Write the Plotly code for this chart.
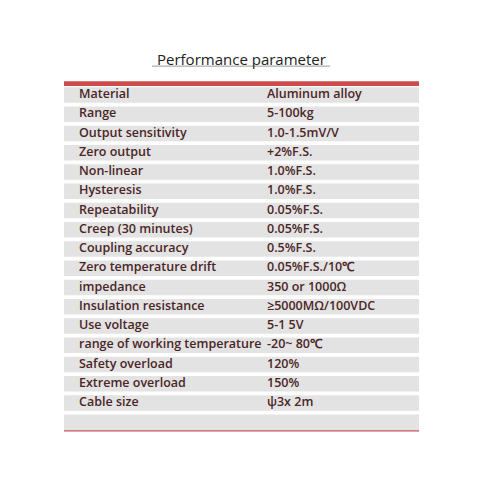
import plotly.graph_objects as go

params = ["Material","Range","Output sensitivity","Zero output","Non-linear","Hysteresis",
          "Repeatability","Creep (30 minutes)","Coupling accuracy","Zero temperature drift",
          "impedance","Insulation resistance","Use voltage","range of working temperature",
          "Safety overload","Extreme overload","Cable size",""]
values = ["Aluminum alloy","5-100kg","1.0-1.5mV/V","+2%F.S.","1.0%F.S.","1.0%F.S.",
          "0.05%F.S.","0.05%F.S.","0.5%F.S.","0.05%F.S./10℃","350 or 1000Ω",
          "≥5000MΩ/100VDC","5-1 5V","-20~ 80℃","120%","150%","ψ3x 2m",""]

rows = list(range(len(params)))
TXT = "#4a2626"
fig = go.Figure()
fig.add_trace(go.Bar(y=rows, x=[355]*len(rows), base=[64]*len(rows), orientation="h",
                     width=0.8, marker=dict(color="#e3e3e3", line_width=0), hoverinfo="skip"))
fnt = dict(size=12.5, color=TXT, family="Open Sans", weight=600)
fig.add_trace(go.Scatter(y=rows, x=[79]*len(rows), text=params, mode="text",
                         textposition="middle right", textfont=fnt))
fig.add_trace(go.Scatter(y=rows, x=[267]*len(rows), text=values, mode="text",
                         textposition="middle right", textfont=fnt))

s = 19.25
top = 95 - 8
fig.update_layout(width=480, height=484, margin=dict(l=0, r=0, t=0, b=0),
                  paper_bgcolor="white", plot_bgcolor="white", showlegend=False,
                  xaxis=dict(range=[8, 488], visible=False, fixedrange=True),
                  yaxis=dict(range=[(484-top)/s, -top/s], visible=False),
                  shapes=[
                      dict(type="rect", xref="x", yref="y", x0=64, x1=419, y0=-0.72, y1=-0.47,
                           fillcolor="#cc4b4b", line_width=0),
                      dict(type="line", xref="x", yref="y", x0=64, x1=419, y0=17.45, y1=17.45,
                           line=dict(color="#b85555", width=1.2)),
                      dict(type="line", xref="x", yref="y", x0=152, x1=330, y0=-1.5, y1=-1.5,
                           line=dict(color="#999999", width=1)),
                  ],
                  annotations=[dict(text="Performance parameter", x=241, y=-1.85, xref="x", yref="y",
                                    showarrow=False, font=dict(size=15, color="#222222", family="Open Sans"))])
fig.write_html("out.html")
